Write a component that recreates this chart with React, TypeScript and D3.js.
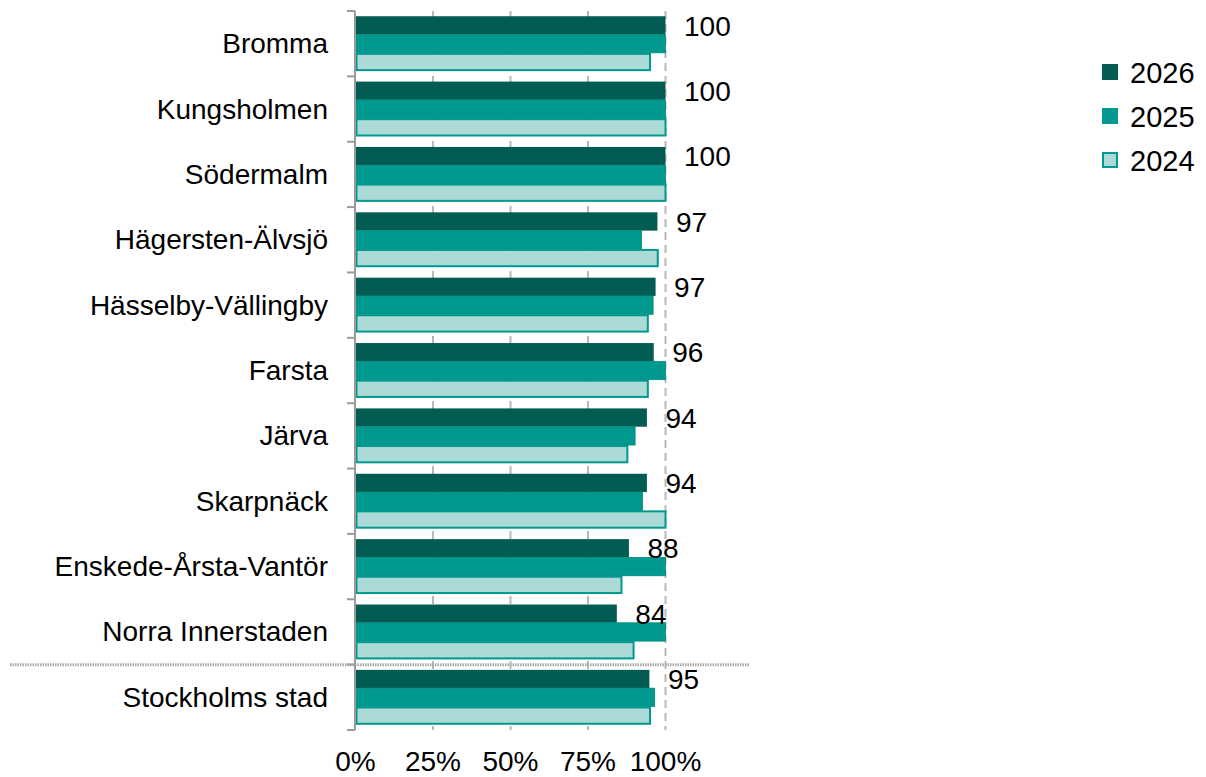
import React from "react";
import * as d3 from "d3";

const categories = [
  "Bromma",
  "Kungsholmen",
  "Södermalm",
  "Hägersten-Älvsjö",
  "Hässelby-Vällingby",
  "Farsta",
  "Järva",
  "Skarpnäck",
  "Enskede-Årsta-Vantör",
  "Norra Innerstaden",
  "Stockholms stad",
];
const series = ["2026", "2025", "2024"];
const v2026 = [100, 100, 100, 97.4, 96.8, 96.2, 94, 94, 88.2, 84.3, 94.8];
const v2025 = [100, 100, 100, 92.3, 96, 100, 90.2, 92.6, 100, 100, 96.5];
const v2024 = [95, 100, 100, 97.5, 94.3, 94.3, 87.7, 100, 85.8, 89.7, 95];
const tickValues = [0, 25, 50, 75, 100];

const W = 1206;
const H = 777;
const FONT = "'Liberation Sans', Arial, sans-serif";

export default function App() {
  const x = d3.scaleLinear().domain([0, 100]).range([355.5, 665.5]);
  const y = d3
    .scaleBand<string>()
    .domain(categories)
    .range([11, 730])
    .paddingInner(0.16)
    .paddingOuter(0.08);
  const step = y.step();
  const yInner = d3.scaleBand<string>().domain(series).range([0, y.bandwidth()]);
  const values: Record<string, number[]> = { "2026": v2026, "2025": v2025, "2024": v2024 };
  const fills: Record<string, string> = { "2026": "#035c51", "2025": "#009990", "2024": "#acdad6" };
  const strokes: Record<string, string> = { "2026": "none", "2025": "#00897f", "2024": "#00998f" };
  const top = 11;
  const bottom = 730;
  const bandTop = (i: number) => top + i * step;

  return (
    <svg
      width={W}
      height={H}
      style={{ position: "absolute", left: 0, top: 0, background: "#fff" }}
      fontFamily={FONT}
    >
      {/* gridlines */}
      {tickValues.slice(1).map((t) => (
        <line
          key={"g" + t}
          x1={x(t)}
          x2={x(t)}
          y1={top}
          y2={bottom}
          stroke="#b8b8b8"
          strokeWidth={2}
          strokeDasharray="8,5"
        />
      ))}
      {/* bars */}
      {categories.map((c, i) =>
        series.map((s) => {
          const v = values[s][i];
          const yy = (y(c) as number) + (yInner(s) as number);
          const h = yInner.bandwidth();
          if (s === "2024") {
            return (
              <rect
                key={c + s}
                x={x(0) + 1}
                y={yy + 1}
                width={x(v) - x(0) - 1}
                height={h - 2}
                fill={fills[s]}
                stroke={strokes[s]}
                strokeWidth={2}
              />
            );
          }
          return (
            <rect
              key={c + s}
              x={x(0)}
              y={yy}
              width={x(v) - x(0)}
              height={h}
              fill={fills[s]}
              stroke={strokes[s]}
              strokeWidth={s === "2025" ? 0.8 : 0}
            />
          );
        })
      )}
      {/* axis line and ticks */}
      <line x1={355} x2={355} y1={top} y2={bottom} stroke="#9a9a9a" strokeWidth={2} />
      {d3.range(categories.length + 1).map((i) => (
        <line
          key={"t" + i}
          x1={347}
          x2={355}
          y1={bandTop(i)}
          y2={bandTop(i)}
          stroke="#9a9a9a"
          strokeWidth={2}
        />
      ))}
      {/* separator */}
      <line
        x1={10}
        x2={750}
        y1={bandTop(10)}
        y2={bandTop(10)}
        stroke="#a8a8a8"
        strokeWidth={3}
        strokeDasharray="1.5,1"
      />
      {/* category labels */}
      {categories.map((c) => (
        <text
          key={"l" + c}
          x={328}
          y={(y(c) as number) + y.bandwidth() / 2 + 9.5}
          textAnchor="end"
          fontSize={28}
          fill="#000"
        >
          {c}
        </text>
      ))}
      {/* value labels */}
      {categories.map((c, i) => (
        <text
          key={"v" + c}
          x={x(v2026[i]) + 18.5}
          y={(y(c) as number) + (yInner("2026") as number) + yInner.bandwidth() + 1}
          fontSize={28}
          fill="#000"
        >
          {Math.round(v2026[i])}
        </text>
      ))}
      {/* x tick labels */}
      {tickValues.map((t) => (
        <text key={"x" + t} x={x(t)} y={771} textAnchor="middle" fontSize={28} fill="#000">
          {t + "%"}
        </text>
      ))}
      {/* legend */}
      {series.map((s, i) => (
        <g key={"lg" + s} transform={`translate(1102, ${64 + i * 44})`}>
          {s === "2024" ? (
            <rect x={1} y={1} width={14} height={14} fill={fills[s]} stroke={strokes[s]} strokeWidth={2} />
          ) : (
            <rect x={0} y={0} width={16} height={16} fill={fills[s]} />
          )}
          <text x={28} y={19} fontSize={29} fill="#000">
            {s}
          </text>
        </g>
      ))}
    </svg>
  );
}
